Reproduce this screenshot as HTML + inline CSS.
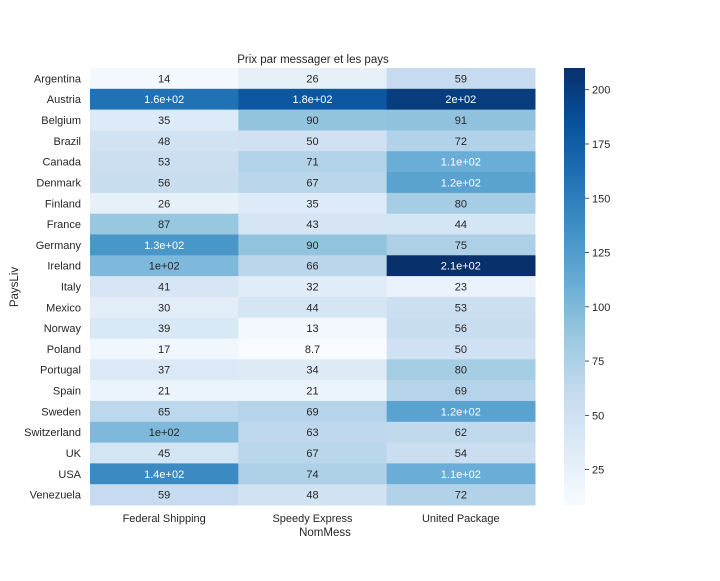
<!DOCTYPE html>
<html><head><meta charset="utf-8"><style>
body{margin:0;background:#fff;}
svg text{font-family:"Liberation Sans","DejaVu Sans",sans-serif;fill:#262626;}
</style></head><body>
<svg id="chart" width="720" height="576" viewBox="0 0 720 576">
<text x="313" y="63" font-size="11.5" text-anchor="middle">Prix par messager et les pays</text>
<text x="325" y="536" font-size="11.5" text-anchor="middle">NomMess</text>
<text transform="translate(18,287) rotate(-90)" font-size="11.5" text-anchor="middle">PaysLiv</text>
<g id="cells"></g><g id="labels"></g><g id="cbar"></g>
</svg>
<script>
const countries=["Argentina","Austria","Belgium","Brazil","Canada","Denmark","Finland","France","Germany","Ireland","Italy","Mexico","Norway","Poland","Portugal","Spain","Sweden","Switzerland","UK","USA","Venezuela"];
const carriers=["Federal Shipping","Speedy Express","United Package"];
const federal=[14,160,35,48,53,56,26,87,130,100,41,30,39,17,37,21,65,100,45,140,59];
const speedy=[26,180,90,50,71,67,35,43,90,66,32,44,13,8.7,34,21,69,63,67,74,48];
const united=[59,200,91,72,110,120,80,44,75,210,23,53,56,50,80,69,120,62,54,110,72];
const cbTicks=[25,50,75,100,125,150,175,200];
const series=[federal,speedy,united];
const X0=90,X1=535,Y0=68,Y1=505;
const all=series.flat();const vmin=Math.min(...all),vmax=Math.max(...all);
const stops=["#f7fbff","#deebf7","#c6dbef","#9ecae1","#6baed6","#4292c6","#2171b5","#08519c","#08306b"].map(h=>[1,3,5].map(i=>parseInt(h.substr(i,2),16)));
function cmap(v){let t=(v-vmin)/(vmax-vmin);t=Math.max(0,Math.min(1,t))*(stops.length-1);const i=Math.min(Math.floor(t),stops.length-2),f=t-i;return stops[i].map((c,k)=>Math.round(c+(stops[i+1][k]-c)*f));}
function lum(c){const l=c.map(x=>{x/=255;return x<=0.03928?x/12.92:Math.pow((x+0.055)/1.055,2.4)});return 0.2126*l[0]+0.7152*l[1]+0.0722*l[2];}
function fmt(v){if(v>=100){let e=Math.floor(Math.log10(v));let m=+(v/Math.pow(10,e)).toPrecision(2);return m+"e+0"+e;}return String(+v.toPrecision(2));}
const cw=(X1-X0)/carriers.length,rh=(Y1-Y0)/countries.length;
const xS=j=>X0+j*cw,yS=i=>Y0+i*rh;
const NS="http://www.w3.org/2000/svg";
function mk(tag,attrs,parent){const e=document.createElementNS(NS,tag);for(const k in attrs)e.setAttribute(k,attrs[k]);parent.appendChild(e);return e;}
const cells=document.getElementById('cells'),labels=document.getElementById('labels'),cb=document.getElementById('cbar');
series.forEach((s,j)=>s.forEach((v,i)=>{
 const c=cmap(v);
 const r=mk('rect',{x:xS(j),y:yS(i),width:cw+0.5,height:rh+0.5,fill:`rgb(${c})`},cells);
 
 
 const t=mk('text',{x:xS(j)+cw/2,y:yS(i)+rh/2+4,'font-size':11,'text-anchor':'middle'},labels);
 t.style.fill=lum(c)>0.408?'#262626':'#ffffff';
 t.textContent=fmt(v);
 
 
}));
countries.forEach((n,i)=>{const t=mk('text',{x:81,y:yS(i)+rh/2+4,'font-size':11,'text-anchor':'end'},labels);t.textContent=n;
 
 });
carriers.forEach((n,j)=>{const t=mk('text',{x:xS(j)+cw/2,y:522,'font-size':11,'text-anchor':'middle'},labels);t.textContent=n;
 
 });
const CX0=564,CX1=585;
const grad=mk('linearGradient',{id:'g',x1:0,y1:1,x2:0,y2:0},mk('defs',{},cb));
stops.forEach((c,k)=>mk('stop',{offset:k/(stops.length-1),'stop-color':`rgb(${c})`},grad));
const bar=mk('rect',{x:CX0,y:Y0,width:CX1-CX0,height:Y1-Y0,fill:'url(#g)'},cb);


const cy=v=>Y1-(v-vmin)/(vmax-vmin)*(Y1-Y0);
cbTicks.forEach(v=>{mk('line',{x1:CX1,x2:CX1+4,y1:cy(v),y2:cy(v),stroke:'#262626','stroke-width':0.8},cb);
 const t=mk('text',{x:CX1+7,y:cy(v)+4,'font-size':11},cb);t.textContent=v;
 
 });
</script>
</body></html>
